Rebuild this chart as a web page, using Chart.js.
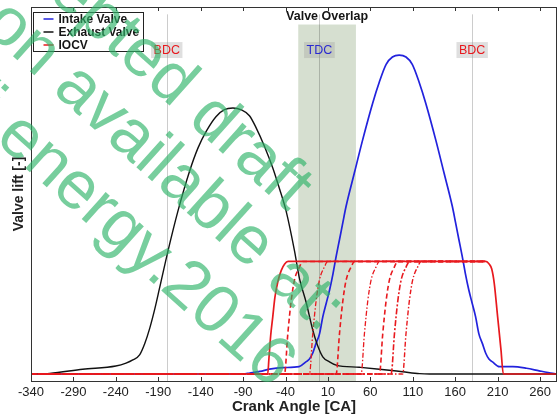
<!DOCTYPE html>
<html>
<head>
<meta charset="utf-8">
<title>Valve lift</title>
<script src="https://cdn.jsdelivr.net/npm/chart.js@4"></script>
<style>
  html, body { margin: 0; padding: 0; background: #fff; }
</style>
</head>
<body>
<canvas id="liftChart" width="559" height="414"></canvas>
<script>
const xTicks = [-340, -290, -240, -190, -140, -90, -40, 10, 60, 110, 160, 210, 260];

// intake valve lift (normalised)
const intakeAngle = [-340, -90, -82, -70, -59, -43, -24, -16, -12, -8, -4, 0, 4, 8, 12, 16, 19.7, 23.6, 27.5, 31.4, 41.2, 51, 62.8, 70.5, 78.6, 86, 94,
  102, 109.4, 117.5, 125.2, 137, 146.8, 156.6, 160.5, 164.4, 168.3, 172, 176, 180, 184, 188, 192, 196, 200, 204, 212, 228, 244, 259, 275, 280];
const intakeLift = [0, 0, 0.003, 0.008, 0.015, 0.02, 0.023, 0.038, 0.046, 0.065, 0.096, 0.125, 0.18, 0.222, 0.264, 0.315, 0.369, 0.421, 0.474, 0.526, 0.631, 0.735, 0.85, 0.915, 0.971, 0.994, 1.0,
  0.994, 0.971, 0.915, 0.85, 0.735, 0.631, 0.526, 0.474, 0.421, 0.369, 0.315, 0.264, 0.222, 0.18, 0.125, 0.096, 0.065, 0.046, 0.038, 0.023, 0.023, 0.018, 0.01, 0.002, 0];

// exhaust valve lift
const exhaustAngle = [-340, -318, -279, -240, -228, -220, -212, -206, -200, -194, -188.5, -178.7, -166.9, -153.1, -143, -133.5, -122, -112, -102, -92, -82.5, -74.6, -65, -55, -47, -39.2,
  -29.4, -23.6, -15.7, -7.9, -2.4, 3.9, 11.8, 19.7, 47, 70.7, 98, 118, 130, 280];
const exhaustLift = [0, 0.002, 0.015, 0.025, 0.034, 0.044, 0.06, 0.095, 0.144, 0.205, 0.269, 0.384, 0.51, 0.636, 0.71, 0.761, 0.807, 0.829, 0.834, 0.828, 0.81, 0.772, 0.715, 0.646, 0.58, 0.51,
  0.386, 0.3, 0.225, 0.138, 0.091, 0.054, 0.038, 0.028, 0.021, 0.015, 0.007, 0.001, 0, 0];

// IOCV reference opening
const iocvAngle = [-340, -61, -59.5, -57.5, -55, -52.5, -49, -45, -41, -37, 196, 200, 203, 206, 210, 214, 216.7, 280];
const iocvLift = [0, 0, 0.05, 0.12, 0.18, 0.24, 0.29, 0.325, 0.345, 0.353, 0.353, 0.345, 0.33, 0.285, 0.18, 0.075, 0, 0];

// IOCV opening timing variants (same ramp, later start)
const rampLift = [0, 0, 0.126, 0.23, 0.295, 0.336, 0.353, 0.353];
const iocvOpen1 = [-340, -41.2, -37.3, -33.3, -29.4, -23.5, -19.6, 196];
const iocvOpen2 = [-340, -11.8, -7.9, -3.9, 0, 5.9, 9.8, 196];
const iocvOpen3 = [-340, 19.7, 23.6, 27.6, 31.5, 37.4, 41.3, 196];
const iocvOpen4 = [-340, 49.1, 53, 57, 60.9, 66.8, 70.7, 196];
const iocvOpen5 = [-340, 70.7, 74.6, 78.6, 82.5, 88.4, 92.3, 196];
const iocvOpen6 = [-340, 84.5, 88.4, 92.4, 96.3, 102.2, 106.1, 196];
const iocvOpen7 = [-340, 98.1, 102, 106, 109.9, 115.8, 119.7, 196];

const markerAngles = [-180, 0, 180];
const markerLabels = ['BDC', 'TDC', 'BDC'];
const overlapRange = [-25, 43];

const RED = '#e8191e';
const BLUE = '#2222dd';
const BLACK = '#111111';
const FONT = '"Liberation Sans", Arial, Helvetica, sans-serif';

function pts(angles, lifts) {
  return angles.map((a, i) => ({ x: a, y: lifts[i] }));
}

const variants = [iocvOpen1, iocvOpen2, iocvOpen3, iocvOpen4, iocvOpen5, iocvOpen6, iocvOpen7];
const dashed = [5, 3];
const dashDot = [5, 2, 1.5, 2];
const variantDash = [dashed, dashDot, dashed, dashDot, dashed, [6, 2, 2, 2], dashDot];
const variantWidth = [1.6, 1.3, 1.6, 1.3, 1.6, 1.6, 1.4];

const datasets = [
  { label: 'IOCV', data: pts(iocvAngle, iocvLift), borderColor: RED, borderWidth: 1.7 },
  ...variants.map((v, i) => ({
    label: '', data: pts(v, rampLift), borderColor: RED,
    borderWidth: variantWidth[i], borderDash: variantDash[i]
  })),
  { label: 'Exhaust Valve', data: pts(exhaustAngle, exhaustLift), borderColor: BLACK, borderWidth: 1.4 },
  { label: 'Intake Valve', data: pts(intakeAngle, intakeLift), borderColor: BLUE, borderWidth: 1.7 }
];
datasets.forEach(d => {
  d.pointRadius = 0;
  d.fill = false;
  d.cubicInterpolationMode = 'monotone';
});

const legendOrder = ['Intake Valve', 'Exhaust Valve', 'IOCV'];

const decorations = {
  id: 'decorations',
  beforeDatasetsDraw(chart) {
    const { ctx, chartArea: a, scales: { x, y } } = chart;
    ctx.save();
    // valve overlap band
    const x0 = x.getPixelForValue(overlapRange[0]);
    const x1 = x.getPixelForValue(overlapRange[1]);
    const bandTop = y.getPixelForValue(1.096);
    ctx.fillStyle = 'rgba(120,150,100,0.3)';
    ctx.fillRect(x0, bandTop, x1 - x0, a.bottom - bandTop);

    ctx.fillStyle = '#151515';
    ctx.font = 'bold 12.5px ' + FONT;
    ctx.textAlign = 'center';
    ctx.textBaseline = 'middle';
    ctx.fillText('Valve Overlap', (x0 + x1) / 2, bandTop - 8);

    // dead centre lines
    ctx.strokeStyle = 'rgba(0,0,0,0.2)';
    ctx.lineWidth = 1;
    const lineTop = y.getPixelForValue(1.128);
    markerAngles.forEach(v => {
      const px = Math.round(x.getPixelForValue(v)) + 0.5;
      ctx.beginPath();
      ctx.moveTo(px, lineTop);
      ctx.lineTo(px, a.bottom);
      ctx.stroke();
    });

    // dead centre tags
    ctx.font = '12.5px ' + FONT;
    const ly = y.getPixelForValue(1.016);
    markerLabels.forEach((t, i) => {
      const px = x.getPixelForValue(markerAngles[i]);
      const w = ctx.measureText(t).width + 5;
      ctx.fillStyle = 'rgba(150,150,150,0.3)';
      ctx.fillRect(px - w / 2, ly - 8, w, 16);
      ctx.fillStyle = t === 'TDC' ? '#2a2ad0' : RED;
      ctx.fillText(t, px, ly + 0.5);
    });
    ctx.restore();
  },
  afterDatasetsDraw(chart) {
    const { ctx, chartArea: a, scales: { x } } = chart;
    ctx.save();
    ctx.strokeStyle = '#333';
    ctx.lineWidth = 1;
    ctx.strokeRect(a.left + 0.5, a.top + 0.5, a.width - 1, a.height);

    // inward tick marks, bottom and top
    xTicks.forEach(v => {
      const px = Math.round(x.getPixelForValue(v)) + 0.5;
      ctx.beginPath();
      ctx.moveTo(px, a.bottom);
      ctx.lineTo(px, a.bottom - 4);
      ctx.moveTo(px, a.top);
      ctx.lineTo(px, a.top + 4);
      ctx.stroke();
    });

    // legend box
    const bx = a.left + 2.5, by = a.top + 5.5;
    ctx.fillStyle = '#fff';
    ctx.fillRect(bx, by, 110, 39);
    ctx.strokeStyle = '#222';
    ctx.strokeRect(bx, by, 110, 39);
    ctx.font = 'bold 12px ' + FONT;
    ctx.textAlign = 'left';
    ctx.textBaseline = 'middle';
    legendOrder.forEach((name, i) => {
      const ds = chart.data.datasets.find(d => d.label === name);
      const ry = by + 6.5 + i * 13;
      ctx.strokeStyle = ds.borderColor;
      ctx.lineWidth = 1.5;
      ctx.beginPath();
      ctx.moveTo(bx + 10, ry);
      ctx.lineTo(bx + 20, ry);
      ctx.stroke();
      ctx.fillStyle = '#151515';
      ctx.fillText(name, bx + 25, ry + 0.5);
    });
    ctx.restore();
  },
  afterDraw(chart) {
    // publisher watermark
    const { ctx } = chart;
    ctx.save();
    ctx.rotate(42 * Math.PI / 180);
    ctx.font = '68px ' + FONT;
    ctx.fillStyle = 'rgba(46,180,105,0.65)';
    ctx.textAlign = 'right';
    ctx.textBaseline = 'alphabetic';
    ctx.fillText('Accepted draft', 356, -35);
    ctx.fillText('Final version available at:', 462, 33);
    ctx.fillText('http://dx.doi.org/10.1016/j.energy.2016', 462, 108);
    ctx.restore();
  }
};

new Chart(document.getElementById('liftChart'), {
  type: 'line',
  data: { datasets: datasets },
  options: {
    responsive: false,
    animation: false,
    events: [],
    layout: { padding: { top: 7, right: 2, left: 0, bottom: 0 } },
    plugins: { legend: { display: false }, tooltip: { enabled: false } },
    scales: {
      x: {
        type: 'linear',
        min: -340,
        max: 280,
        afterBuildTicks: scale => { scale.ticks = xTicks.map(v => ({ value: v })); },
        afterFit: scale => { scale.height = 33; },
        grid: { display: false, drawTicks: false },
        border: { display: false },
        ticks: { autoSkip: false, maxRotation: 0, padding: 4, color: '#222', font: { family: FONT, size: 13 } },
        title: { display: true, text: 'Crank Angle [CA]', color: '#222', padding: 0, font: { family: FONT, size: 15, weight: 'bold', lineHeight: 1 } }
      },
      y: {
        min: -0.022,
        max: 1.151,
        afterFit: scale => { scale.width = 31; },
        grid: { display: false, drawTicks: false },
        border: { display: false },
        ticks: { display: false },
        title: { display: true, text: 'Valve lift [-]', color: '#222', padding: { top: 11, bottom: 0 }, font: { family: FONT, size: 14, weight: 'bold' } }
      }
    }
  },
  plugins: [decorations]
});
</script>
</body>
</html>
